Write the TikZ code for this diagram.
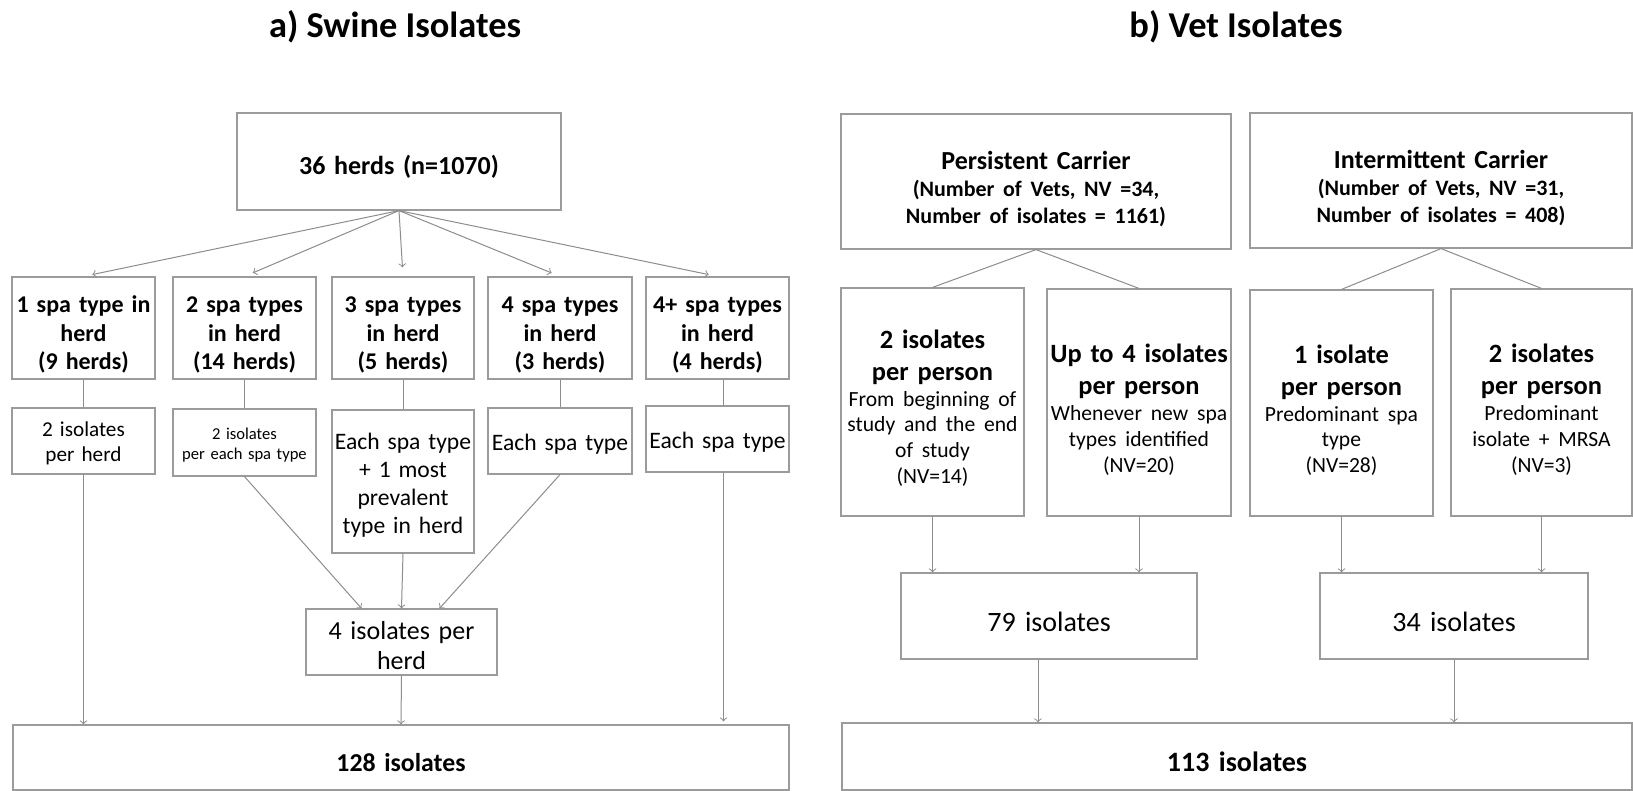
\documentclass[tikz,border=0pt]{standalone}
\usepackage{fontspec}
\setmainfont{Carlito}
\usetikzlibrary{positioning}
\definecolor{linegray}{RGB}{140,140,140}
\definecolor{boxgray}{RGB}{155,155,155}

\begin{document}
\begin{tikzpicture}[x=0.5pt, y=-0.5pt,
		cell/.style={draw=boxgray, line width=0.6pt, inner sep=0pt, align=center},
		low/.style={execute at begin node={\vrule width 0pt height \dimexpr 0.75em+#1\relax}},
		flow/.style={draw=linegray, line width=0.5pt, ->},
		link/.style={draw=linegray, line width=0.5pt},
		hbold/.style={font={\fontsize{12}{14.2}\selectfont\bfseries}},
		hnorm/.style={font={\fontsize{11.8}{14}\selectfont}},
		pbold/.style={font={\fontsize{13.2}{16}\selectfont\bfseries}}]
		\useasboundingbox (0,0) rectangle (1633,791);

		\node (titleA) at (395,27) {\fontsize{18.2}{21}\selectfont\bfseries a) Swine Isolates};
		\node (titleB) at (1236,27) {\fontsize{18.2}{21}\selectfont\bfseries b) Vet Isolates};

		% swine side
		\node[cell, low=5pt, font={\fontsize{13}{15}\selectfont\bfseries}, text width=162pt, minimum height=48.5pt] (herds) at (399,161.5) {36 herds (n=1070)};

		\node[cell, low=6pt, hbold, text width=71.5pt, minimum height=51pt] (one) at (83.5,328) {1 spa type in\\herd\\(9 herds)};
		\node[cell, low=6pt, hbold, text width=71.5pt, minimum height=51pt] (two) at (244.5,328) {2 spa types\\in herd\\(14 herds)};
		\node[cell, low=6pt, hbold, text width=71pt, minimum height=51pt] (three) at (403,328) {3 spa types\\in herd\\(5 herds)};
		\node[cell, low=6pt, hbold, text width=72pt, minimum height=51pt] (four) at (560,328) {4 spa types\\in herd\\(3 herds)};
		\node[cell, low=6pt, hbold, text width=71.5pt, minimum height=51pt] (more) at (717.5,328) {4+ spa types\\in herd\\(4 herds)};

		\node[cell, low=2pt, font={\fontsize{10.6}{12.5}\selectfont}, text width=71.5pt, minimum height=33pt] (oneS) at (83.5,441) {2 isolates\\per herd};
		\node[cell, low=2pt, font={\fontsize{8.3}{10}\selectfont}, text width=71.5pt, minimum height=33.5pt] (twoS) at (244.5,442.5) {2 isolates\\per each spa type};
		\node[cell, low=3pt, hnorm, text width=71pt, minimum height=71.5pt] (threeS) at (403,481.5) {Each spa type\\+ 1 most\\prevalent\\type in herd};
		\node[cell, low=3pt, hnorm, text width=72pt, minimum height=33pt] (fourS) at (560,441) {Each spa type};
		\node[cell, low=3pt, hnorm, text width=71.5pt, minimum height=33pt] (moreS) at (717.5,439) {Each spa type};

		\node[cell, low=3pt, font={\fontsize{13}{15}\selectfont}, text width=95.5pt, minimum height=33pt] (perherd) at (401.5,642) {4 isolates per\\herd};
		\node[cell, low=4.5pt, font={\fontsize{12.9}{15}\selectfont\bfseries}, text width=388pt, minimum height=32.5pt] (swineT) at (401,757.5) {128 isolates};

		\draw[flow, shorten >=4.5pt] (herds.south) -- (one.north);
		\draw[flow, shorten >=4.5pt] (herds.south) -- (two.north);
		\draw[flow, shorten >=4.5pt] (herds.south) -- (three.north);
		\draw[flow, shorten >=4.5pt] (herds.south) -- (four.north);
		\draw[flow, shorten >=4.5pt] (herds.south) -- (more.north);

		\draw[link] (one.south) -- (oneS.north);
		\draw[link] (two.south) -- (twoS.north);
		\draw[link] (three.south) -- (threeS.north);
		\draw[link] (four.south) -- (fourS.north);
		\draw[link] ([xshift=3pt]more.south) -- ([xshift=3pt]moreS.north);

		\draw[flow] (twoS.south) -- ([xshift=-20pt]perherd.north);
		\draw[flow] (threeS.south) -- (perherd.north);
		\draw[flow] (fourS.south) -- ([xshift=19pt]perherd.north);
		\draw[flow] (perherd.south) -- (swineT.north);
		\draw[flow] (oneS.south) -- (oneS.south |- swineT.north);
		\draw[flow, shorten >=1.5pt] ([xshift=3pt]moreS.south) -- ([xshift=3pt]moreS.south |- swineT.north);

		% vet side
		\node[cell, low=7pt, font={\fontsize{13}{15}\selectfont\bfseries}, text width=195pt, minimum height=67.5pt] (persist) at (1036,181.5)
			{Persistent Carrier\par
			 {\fontsize{11}{13.3}\selectfont (Number of Vets, NV =34,\\ Number of isolates = 1161)\par}};
		\node[cell, low=7pt, font={\fontsize{13}{15}\selectfont\bfseries}, text width=191pt, minimum height=67.5pt] (intermit) at (1441,180.5)
			{Intermittent Carrier\par
			 {\fontsize{11}{13.3}\selectfont (Number of Vets, NV =31,\\ Number of isolates = 408)\par}};

		\node[cell, low=5.5pt, pbold, text width=91.5pt, minimum height=114pt] (pTwo) at (932.5,402)
			{2 isolates\\ per person\par
			 {\fontsize{10.8}{12.9}\selectfont\mdseries From beginning of\\ study and the end\\ of study\\ (NV=14)\par}};
		\node[cell, low=6.5pt, pbold, text width=92pt, minimum height=113.5pt] (pFour) at (1139,402.5)
			{Up to 4 isolates\\ per person\par
			 {\fontsize{10.8}{12.9}\selectfont\mdseries Whenever new spa\\ types identified\\ (NV=20)\par}};
		\node[cell, low=6.5pt, pbold, text width=91.5pt, minimum height=113pt] (iOne) at (1341.5,403)
			{1 isolate\\ per person\par
			 {\fontsize{10.8}{12.9}\selectfont\mdseries Predominant spa\\ type\\ (NV=28)\par}};
		\node[cell, low=6.5pt, pbold, text width=90.5pt, minimum height=113.5pt] (iTwo) at (1541.5,402.5)
			{2 isolates\\ per person\par
			 {\fontsize{10.8}{12.9}\selectfont\mdseries Predominant\\ isolate + MRSA\\ (NV=3)\par}};

		\node[cell, low=5pt, font={\fontsize{14}{16}\selectfont}, text width=148pt, minimum height=43pt] (persistT) at (1049,616) {79 isolates};
		\node[cell, low=5pt, font={\fontsize{14}{16}\selectfont}, text width=134pt, minimum height=43pt] (intermitT) at (1454,616) {34 isolates};
		\node[cell, low=4.5pt, font={\fontsize{14}{16}\selectfont\bfseries}, text width=395pt, minimum height=33.5pt] (vetT) at (1237,756.5) {113 isolates};

		\draw[link] (persist.south) -- (pTwo.north);
		\draw[link] (persist.south) -- (pFour.north);
		\draw[link] (intermit.south) -- (iOne.north);
		\draw[link] (intermit.south) -- (iTwo.north);

		\draw[flow] (pTwo.south) -- (pTwo.south |- persistT.north);
		\draw[flow] (pFour.south) -- (pFour.south |- persistT.north);
		\draw[flow] (iOne.south) -- (iOne.south |- intermitT.north);
		\draw[flow] (iTwo.south) -- (iTwo.south |- intermitT.north);
		\draw[flow] ([xshift=-5.5pt]persistT.south) -- ([xshift=-5.5pt]persistT.south |- vetT.north);
		\draw[flow] (intermitT.south) -- (intermitT.south |- vetT.north);
	\end{tikzpicture}
\end{document}
